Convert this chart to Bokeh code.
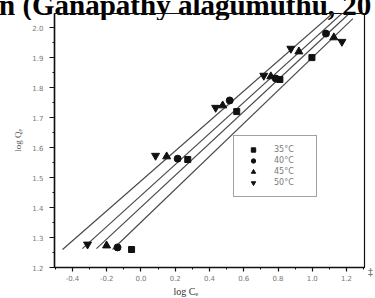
from bokeh.plotting import figure
from bokeh.layouts import column
from bokeh.models import (Range1d, FixedTicker, NumeralTickFormatter, Title,
                          Legend, LegendItem, Div)
from bokeh.embed import file_html
from bokeh.resources import INLINE

# ---- data ----
series_labels = ["35°C", "40°C", "45°C", "50°C"]

x_35 = [-0.055, 0.273, 0.559, 0.811, 0.998]
y_35 = [1.260, 1.560, 1.720, 1.827, 1.900]
x_40 = [-0.137, 0.214, 0.518, 0.787, 1.080]
y_40 = [1.267, 1.563, 1.757, 1.830, 1.980]
x_45 = [-0.201, 0.150, 0.477, 0.758, 0.922, 1.126]
y_45 = [1.273, 1.570, 1.740, 1.837, 1.920, 1.967]
x_50 = [-0.312, 0.085, 0.436, 0.717, 0.875, 1.173]
y_50 = [1.277, 1.573, 1.733, 1.840, 1.930, 1.953]

# fitted lines (end points)
fit_35_x = [-0.166, 1.237]
fit_35_y = [1.260, 2.030]
fit_40_x = [-0.260, 1.208]
fit_40_y = [1.263, 2.043]
fit_45_x = [-0.342, 1.179]
fit_45_y = [1.263, 2.050]
fit_50_x = [-0.458, 1.138]
fit_50_y = [1.260, 2.057]

x_ticks = [-0.4, -0.2, 0.0, 0.2, 0.4, 0.6, 0.8, 1.0, 1.2]
x_minor = [-0.5, -0.3, -0.1, 0.1, 0.3, 0.5, 0.7, 0.9, 1.1, 1.3]
y_ticks = [1.2, 1.3, 1.4, 1.5, 1.6, 1.7, 1.8, 1.9, 2.0]
y_minor = [1.25, 1.35, 1.45, 1.55, 1.65, 1.75, 1.85, 1.95]

x_title = "log Cₑ"
y_title = "log Qₑ"
page_text = "n (Ganapathy alagumuthu, 20"
corner_mark = "‡"

W, H = 374, 297

# ---- figure ----
p = figure(width=W, height=H, output_backend="svg", toolbar_location=None,
           x_range=Range1d(-0.505, 1.305), y_range=Range1d(1.2, 2.047),
           min_border_left=54, min_border_right=10, min_border_top=13,
           min_border_bottom=30)
p.grid.visible = False
p.outline_line_color = "#111111"
p.outline_line_width = 1.2
p.background_fill_alpha = 0
p.border_fill_alpha = 0

line_col = "#4a4a4a"
for fx, fy in [(fit_35_x, fit_35_y), (fit_40_x, fit_40_y),
               (fit_45_x, fit_45_y), (fit_50_x, fit_50_y)]:
    p.line(fx, fy, line_color=line_col, line_width=1.2)

mk = "#111111"
r35 = p.scatter(x_35, y_35, marker="square", size=6, color=mk)
r40 = p.scatter(x_40, y_40, marker="circle", size=7, color=mk)
r45 = p.scatter(x_45, y_45, marker="triangle", size=8, color=mk)
r50 = p.scatter(x_50, y_50, marker="inverted_triangle", size=8, color=mk)

legend = Legend(items=[LegendItem(label=series_labels[0], renderers=[r35]),
                       LegendItem(label=series_labels[1], renderers=[r40]),
                       LegendItem(label=series_labels[2], renderers=[r45]),
                       LegendItem(label=series_labels[3], renderers=[r50])],
                location=(179, 70), padding=8, spacing=0, margin=0,
                glyph_width=22, glyph_height=11, label_height=11,
                label_width=34, label_standoff=10,
                label_text_font="DejaVu Sans", label_text_font_size="8px",
                label_text_color="#7a7a7a",
                border_line_color="#444444", border_line_width=1,
                background_fill_color="white", background_fill_alpha=1.0)
p.add_layout(legend, "center")

# ---- axes ----
for ax in (p.xaxis[0], p.yaxis[0]):
    ax.axis_line_color = "#111111"
    ax.axis_line_width = 1.5
    ax.major_tick_line_color = "#111111"
    ax.minor_tick_line_color = "#111111"
    ax.major_tick_line_width = 1.2
    ax.major_tick_in = 0
    ax.minor_tick_in = 0
    ax.major_label_text_font = "DejaVu Sans"
    ax.major_label_text_font_size = "7px"
    ax.major_label_text_color = "#777777"
    ax.formatter = NumeralTickFormatter(format="0.0")

p.xaxis[0].ticker = FixedTicker(ticks=x_ticks, minor_ticks=x_minor)
p.yaxis[0].ticker = FixedTicker(ticks=y_ticks, minor_ticks=y_minor)
p.xaxis[0].major_tick_out = 4
p.xaxis[0].minor_tick_out = 2
p.xaxis[0].major_label_standoff = 3
p.yaxis[0].major_tick_out = 5
p.yaxis[0].minor_tick_out = 2
p.yaxis[0].major_label_standoff = 6

p.yaxis[0].axis_label = y_title
p.yaxis[0].axis_label_text_font = "Liberation Serif"
p.yaxis[0].axis_label_text_font_size = "9px"
p.yaxis[0].axis_label_text_font_style = "normal"
p.yaxis[0].axis_label_text_color = "#555555"
p.yaxis[0].axis_label_standoff = 6

# x title placed off-centre like the original, below the axis
p.add_layout(Title(text=x_title, align="left", offset=119, standoff=0,
                   text_font="Liberation Serif", text_font_size="10px",
                   text_font_style="normal", text_color="#333333"), "below")

# the clipped line of the source page above the chart
div = Div(text=page_text, width=376, height=29,
          margin=(-9, 0, -20, -1),
          styles={"font-family": "'Liberation Serif', serif",
                  "font-weight": "bold", "font-size": "29px",
                  "line-height": "29px", "white-space": "nowrap",
                  "overflow": "hidden", "color": "#000000"})

# small stray mark right of the axis end
mark = Div(text=corner_mark, width=7, height=10,
           margin=(-29, 0, 0, 368),
           styles={"font-family": "'DejaVu Sans', sans-serif",
                   "font-size": "10px", "line-height": "10px",
                   "color": "#777777", "overflow": "hidden"})

layout = column(div, p, mark, spacing=0)

open("out.html", "w").write(file_html(layout, INLINE))
